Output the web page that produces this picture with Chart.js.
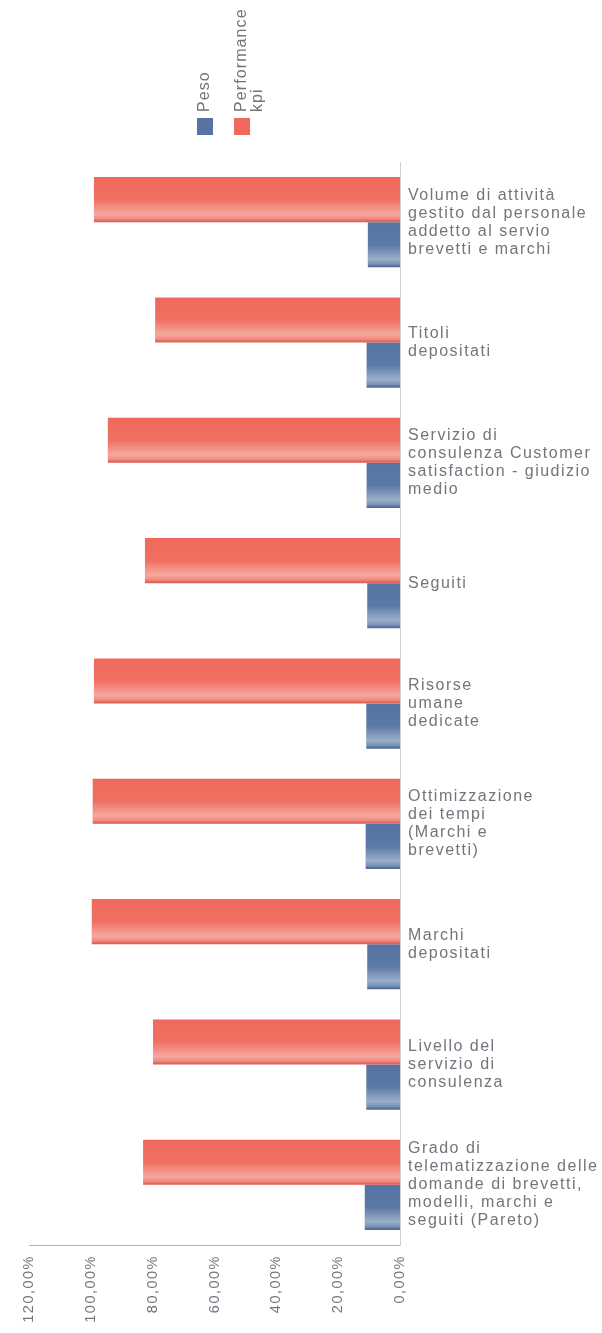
<!DOCTYPE html>
<html>
<head>
<meta charset="utf-8">
<script src="https://cdn.jsdelivr.net/npm/chart.js@4/dist/chart.umd.min.js"></script>
<style>
  html, body { margin: 0; padding: 0; background: #ffffff; }
  #wrap { width: 602px; height: 1333px; position: relative; }
</style>
</head>
<body>
<div id="wrap"><canvas id="c" width="602" height="1333"></canvas></div>
<script>
// Categories (wrapped label lines)
const categories = [
  ['Volume di attività', 'gestito dal personale', 'addetto al servio', 'brevetti e marchi'],
  ['Titoli', 'depositati'],
  ['Servizio di', 'consulenza Customer', 'satisfaction - giudizio', 'medio'],
  ['Seguiti'],
  ['Risorse', 'umane', 'dedicate'],
  ['Ottimizzazione', 'dei tempi', '(Marchi e', 'brevetti)'],
  ['Marchi', 'depositati'],
  ['Livello del', 'servizio di', 'consulenza'],
  ['Grado di', 'telematizzazione delle', 'domande di brevetti,', 'modelli, marchi e', 'seguiti (Pareto)']
];

// Series values (%)
const performanceKpi = [99, 79.2, 94.5, 82.5, 99, 99.4, 99.7, 79.9, 83.1];
const peso = [10.4, 10.8, 10.8, 10.6, 10.9, 11.1, 10.6, 10.9, 11.4];

// Axis ticks (%)
const tickValues = [0, 20, 40, 60, 80, 100, 120];

const RED = '#ef6a5c';
const BLUE = '#5574a3';
const TEXT = '#74747e';
const FONT = '"Liberation Sans", Arial, sans-serif';

function fmtPct(v) {
  return v.toFixed(2).replace('.', ',') + '%';
}

// Slightly spaced lettering for every text drawn on the canvas
const spacing = {
  id: 'spacing',
  beforeDraw(chart) { chart.ctx.letterSpacing = '1.5px'; }
};

// Shading band along the lower part of each bar
const barShade = {
  id: 'barShade',
  afterDatasetsDraw(chart) {
    const ctx = chart.ctx;
    chart.data.datasets.forEach((ds, di) => {
      const meta = chart.getDatasetMeta(di);
      meta.data.forEach(bar => {
        const p = bar.getProps(['x', 'y', 'base', 'height'], true);
        const left = Math.min(p.x, p.base), w = Math.abs(p.base - p.x);
        const top = p.y - p.height / 2, h = p.height;
        const g = ctx.createLinearGradient(0, top, 0, top + h);
        g.addColorStop(0, 'rgba(255,255,255,0)');
        g.addColorStop(0.5, 'rgba(255,255,255,0.04)');
        g.addColorStop(0.82, 'rgba(255,255,255,0.42)');
        g.addColorStop(0.93, 'rgba(255,255,255,0.2)');
        g.addColorStop(1, 'rgba(0,0,0,0.08)');
        ctx.save();
        ctx.fillStyle = g;
        ctx.fillRect(left, top, w, h);
        ctx.restore();
      });
    });
  }
};

// Legend drawn with vertical text above colour boxes
const verticalLegend = {
  id: 'verticalLegend',
  afterDraw(chart) {
    const ctx = chart.ctx;
    const byLabel = l => chart.data.datasets.find(d => d.label === l);
    const items = [
      { lines: ['Peso'], color: byLabel('Peso').backgroundColor, x: 205 },
      { lines: ['Performance', 'kpi'], color: byLabel('Performance kpi').backgroundColor, x: 242 }
    ];
    ctx.save();
    ctx.letterSpacing = '1.1px';
    items.forEach(it => {
      ctx.fillStyle = it.color;
      ctx.fillRect(it.x - 8, 118, 16, 17);
      ctx.fillStyle = TEXT;
      ctx.font = '16px ' + FONT;
      ctx.textAlign = 'left';
      ctx.textBaseline = 'middle';
      it.lines.forEach((ln, i) => {
        ctx.save();
        ctx.translate(it.x + i * 16, 112);
        ctx.rotate(-Math.PI / 2);
        ctx.fillText(ln, 0, 0);
        ctx.restore();
      });
    });
    ctx.restore();
  }
};

new Chart(document.getElementById('c'), {
  type: 'bar',
  data: {
    labels: categories,
    datasets: [
      { label: 'Performance kpi', data: performanceKpi, backgroundColor: RED, borderWidth: 0 },
      { label: 'Peso', data: peso, backgroundColor: BLUE, borderWidth: 0 }
    ]
  },
  options: {
    indexAxis: 'y',
    responsive: false,
    animation: false,
    devicePixelRatio: 1,
    layout: { padding: { top: 162, left: 29, right: 0, bottom: 0 } },
    datasets: { bar: { categoryPercentage: 0.75, barPercentage: 1 } },
    plugins: {
      legend: { display: false },
      tooltip: { enabled: false }
    },
    scales: {
      x: {
        position: 'bottom',
        reverse: true,
        min: 0,
        max: 120,
        afterBuildTicks(axis) { axis.ticks = tickValues.map(v => ({ value: v })); },
        afterFit(axis) { axis.height = 88; },
        grid: { display: false, drawTicks: false },
        border: { display: true, color: '#b0b0b8', width: 1, dash: [6, 3] },
        ticks: {
          minRotation: 90,
          maxRotation: 90,
          padding: 10,
          color: TEXT,
          font: { family: FONT, size: 14.5 },
          callback: v => fmtPct(v)
        }
      },
      y: {
        position: 'right',
        afterFit(axis) { axis.width = 202; },
        grid: { display: false, drawTicks: false },
        border: { display: true, color: '#d0d0d4', width: 1 },
        ticks: {
          padding: 8,
          color: TEXT,
          crossAlign: 'near',
          font: { family: FONT, size: 16, lineHeight: 1.125 }
        }
      }
    }
  },
  plugins: [spacing, barShade, verticalLegend]
});
</script>
</body>
</html>
